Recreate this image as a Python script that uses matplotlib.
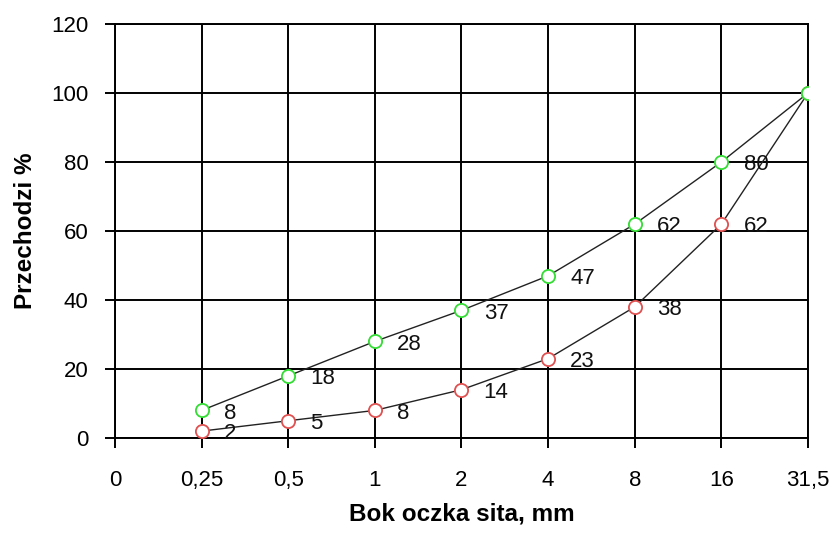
import matplotlib.pyplot as plt

sieve_labels = ["0", "0,25", "0,5", "1", "2", "4", "8", "16", "31,5"]
upper = [8, 18, 28, 37, 47, 62, 80, 100]
lower = [2, 5, 8, 14, 23, 38, 62, 100]
upper_labels = ["8", "18", "28", "37", "47", "62", "80", ""]
lower_labels = ["2", "5", "8", "14", "23", "38", "62", ""]

plt.rcParams['font.family'] = ['Liberation Sans', 'DejaVu Sans']

fig = plt.figure(figsize=(8.35, 5.34), dpi=100)
ax = fig.add_axes([115/835, 1-438/534, (808-115)/835, (438-24)/534])

xs = list(range(1, len(upper)+1))
# lower curve first so the green marker sits on top at 31,5
ax.plot(xs, lower, color='#222222', lw=1.0, marker='o', ms=9.5,
        mfc='white', mec='#e05050', mew=1.3, zorder=3)
ax.plot(xs, upper, color='#222222', lw=1.0, marker='o', ms=9.5,
        mfc='white', mec='#33dd33', mew=1.3, zorder=3)

for x, y, t in zip(xs, upper, upper_labels):
    ax.annotate(t, (x, y), xytext=(16, -2), textcoords='offset points',
                ha='left', va='center', fontsize=16, color='#111111', zorder=4)
for x, y, t in zip(xs, lower, lower_labels):
    ax.annotate(t, (x, y), xytext=(16, -2), textcoords='offset points',
                ha='left', va='center', fontsize=16, color='#111111', zorder=4)

ax.set_xlim(0, 8)
ax.set_ylim(0, 120)
ax.set_xticks(range(len(sieve_labels)))
ax.set_xticklabels(sieve_labels)
ax.set_yticks(range(0, 121, 20))
ax.grid(True, color='black', lw=1.4)
ax.set_axisbelow(True)
for s in ax.spines.values():
    s.set_color('black')
    s.set_linewidth(1.4)
ax.tick_params(axis='both', direction='out', length=7, width=1.4,
               labelsize=16, colors='black')
ax.tick_params(axis='x', pad=16)
ax.tick_params(axis='y', pad=12)

ax.set_xlabel("Bok oczka sita, mm", fontsize=17.5, fontweight='bold', labelpad=8)
ax.set_ylabel("Przechodzi %", fontsize=17.5, fontweight='bold', labelpad=10)

fig.savefig("out.png", dpi=100)
